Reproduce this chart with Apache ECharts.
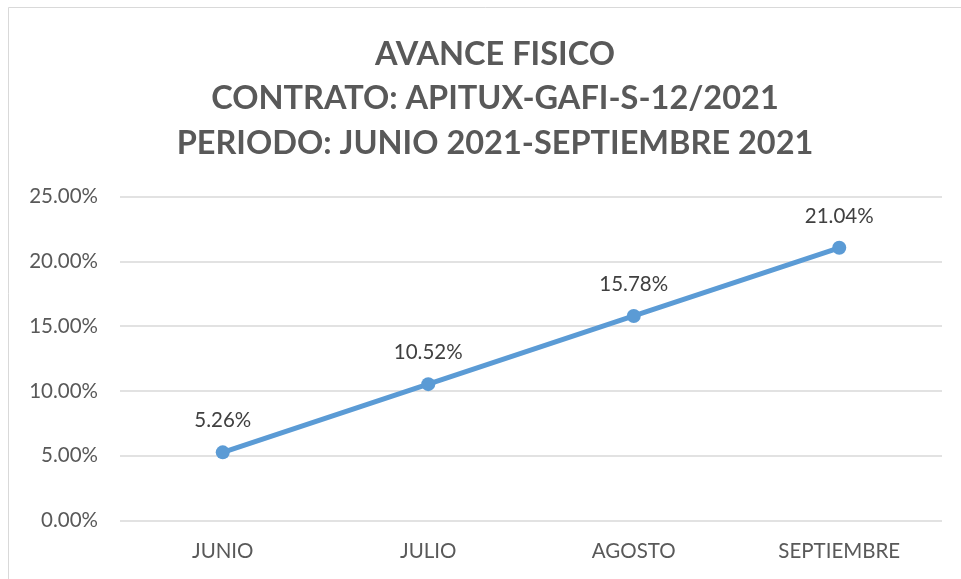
<!DOCTYPE html>
<html><head><meta charset="utf-8">
<script src="https://cdn.jsdelivr.net/npm/echarts@6/dist/echarts.min.js"></script>
<style>html,body{margin:0;padding:0;background:#fff;}#c{width:961px;height:579px;}</style>
</head><body><div id="c"></div>
<script>
const categories = ['JUNIO', 'JULIO', 'AGOSTO', 'SEPTIEMBRE'];
const values = [5.26, 10.52, 15.78, 21.04];
const titleLines = ['AVANCE FISICO', 'CONTRATO: APITUX-GAFI-S-12/2021', 'PERIODO: JUNIO 2021-SEPTIEMBRE 2021'];

const chart = echarts.init(document.getElementById('c'));
chart.setOption({
  animation: false,
  backgroundColor: '#fff',
  graphic: [{ type: 'rect', shape: { x: 8.5, y: 7.5, width: 1000, height: 700 }, style: { fill: 'none', stroke: '#d9d9d9', lineWidth: 1 }, silent: true }],
  title: {
    text: titleLines.join('\n'),
    left: 490, textAlign: 'center', top: 27,
    textStyle: { fontFamily: 'Lato', fontWeight: 'bold', fontSize: 32.5, lineHeight: 44.5, color: '#595959' }
  },
  grid: { left: 120, right: 19, top: 196.5, bottom: 58.5, containLabel: false },
  xAxis: {
    type: 'category', data: categories,
    axisLine: { show: false }, axisTick: { show: false },
    axisLabel: { color: '#595959', fontFamily: 'Lato', fontSize: 20.5, margin: 20 }
  },
  yAxis: {
    type: 'value', min: 0, max: 25, interval: 5,
    axisLine: { show: false }, axisTick: { show: false },
    splitLine: { lineStyle: { color: '#d9d9d9', width: 1.5 } },
    axisLabel: { color: '#595959', fontFamily: 'Lato', fontSize: 20.5, margin: 22, formatter: v => v.toFixed(2) + '%' }
  },
  series: [{
    type: 'line', data: values,
    lineStyle: { color: '#5B9BD5', width: 5 },
    itemStyle: { color: '#5B9BD5' },
    symbol: 'circle', symbolSize: 14,
    label: { show: true, position: 'top', distance: 14, color: '#404040', fontFamily: 'Lato', fontSize: 20.5, formatter: p => p.value.toFixed(2) + '%' }
  }]
});
</script></body></html>
